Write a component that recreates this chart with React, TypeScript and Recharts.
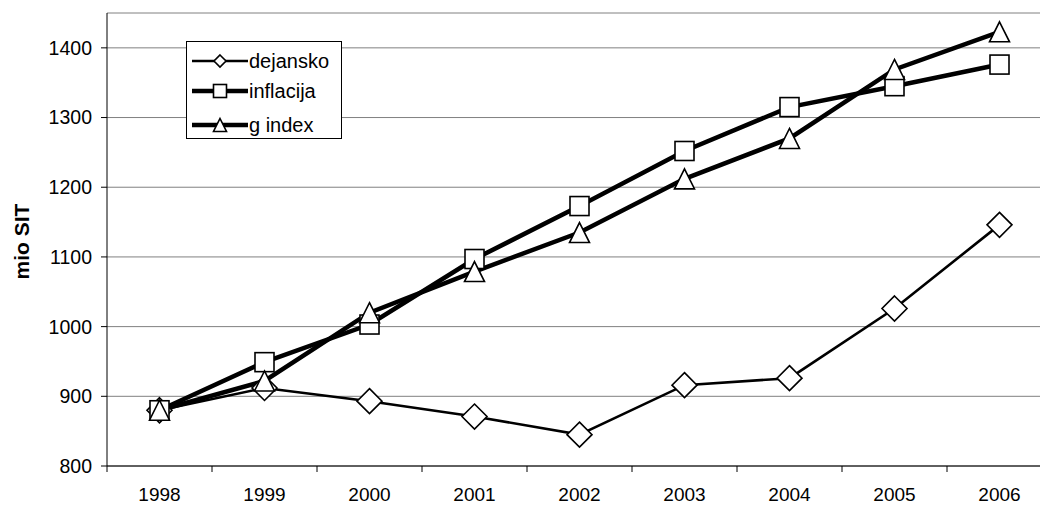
import React from 'react';
import { LineChart, Line, XAxis, YAxis, CartesianGrid, Label } from 'recharts';

const YEARS = ['1998', '1999', '2000', '2001', '2002', '2003', '2004', '2005', '2006'];
const DEJANSKO = [880, 912, 893, 871, 845, 916, 926, 1026, 1146];
const INFLACIJA = [880, 949, 1003, 1097, 1173, 1252, 1315, 1345, 1376];
const G_INDEX = [880, 922, 1020, 1079, 1135, 1212, 1270, 1369, 1423];
const SERIES_NAMES = ['dejansko', 'inflacija', 'g index'];
const Y_TICKS = [800, 900, 1000, 1100, 1200, 1300, 1400];
const Y_DOMAIN = [800, 1450];

const FONT = '"Liberation Sans", Arial, sans-serif';
const CHART_W = 1060;
const CHART_H = 505;
const AXIS_W = 107;
const PLOT_W = 945;
const HALF_BAND = PLOT_W / YEARS.length / 2;

const data = YEARS.map((year, i) => ({
  year,
  dejansko: DEJANSKO[i],
  inflacija: INFLACIJA[i],
  gindex: G_INDEX[i],
}));

function Diamond({ cx, cy, r = 12.5 }: { cx: number; cy: number; r?: number }) {
  return (
    <path
      d={`M${cx},${cy - r}L${cx + r},${cy}L${cx},${cy + r}L${cx - r},${cy}Z`}
      fill="#fff"
      stroke="#000"
      strokeWidth={1.6}
    />
  );
}

function Square({ cx, cy, r = 9.5 }: { cx: number; cy: number; r?: number }) {
  return (
    <rect x={cx - r} y={cy - r} width={r * 2} height={r * 2} fill="#fff" stroke="#000" strokeWidth={1.6} />
  );
}

function Triangle({ cx, cy, r = 10 }: { cx: number; cy: number; r?: number }) {
  return (
    <path
      d={`M${cx},${cy - r}L${cx + r},${cy + r}L${cx - r},${cy + r}Z`}
      fill="#fff"
      stroke="#000"
      strokeWidth={1.6}
    />
  );
}

function XTick(props: any) {
  const { x, y, payload } = props;
  return (
    <g>
      <line x1={x - HALF_BAND} x2={x - HALF_BAND} y1={y} y2={y + 6} stroke="#000" />
      <text x={x} y={y + 35} textAnchor="middle" fontSize={19} fontFamily={FONT} fill="#000">
        {payload.value}
      </text>
    </g>
  );
}

function YLabel(props: any) {
  const { viewBox } = props;
  const x = viewBox.x + 21;
  const y = viewBox.y + viewBox.height / 2 + 2;
  return (
    <text
      x={x}
      y={y}
      transform={`rotate(-90 ${x} ${y})`}
      textAnchor="middle"
      dominantBaseline="central"
      fontSize={21}
      fontWeight="bold"
      fontFamily={FONT}
      fill="#000"
    >
      mio SIT
    </text>
  );
}

function LegendBox() {
  const ys = [22, 52, 86];
  const rows = [
    { name: SERIES_NAMES[0], width: 2.6, mark: <Diamond cx={36} cy={ys[0]} r={6} /> },
    { name: SERIES_NAMES[1], width: 4.5, mark: <Square cx={36} cy={ys[1]} r={6.5} /> },
    { name: SERIES_NAMES[2], width: 4.5, mark: <Triangle cx={36} cy={ys[2]} r={6.5} /> },
  ];
  return (
    <svg width={160} height={102} style={{ position: 'absolute', left: 184, top: 39 }}>
      <rect x={2.5} y={2.5} width={155} height={97} fill="#fff" stroke="#000" strokeWidth={1} />
      {rows.map((r, i) => (
        <g key={r.name}>
          <line x1={8} x2={64} y1={ys[i]} y2={ys[i]} stroke="#000" strokeWidth={r.width} />
          {r.mark}
          <text x={65} y={ys[i]} dominantBaseline="central" fontSize={20} fontFamily={FONT} fill="#000">
            {r.name}
          </text>
        </g>
      ))}
    </svg>
  );
}

export default function App() {
  return (
    <div
      style={{
        position: 'absolute',
        left: 0,
        top: 0,
        width: 1040,
        height: 505,
        overflow: 'hidden',
        background: '#fff',
      }}
    >
      <LineChart
        width={CHART_W}
        height={CHART_H}
        data={data}
        margin={{ top: 13, right: CHART_W - AXIS_W - PLOT_W, left: 0, bottom: 0 }}
      >
        <CartesianGrid vertical={false} stroke="#808080" strokeWidth={1} />
        <XAxis
          dataKey="year"
          height={39}
          padding={{ left: HALF_BAND, right: HALF_BAND }}
          tickSize={0}
          tickMargin={0}
          tickLine={false}
          axisLine={{ stroke: '#000' }}
          tick={<XTick />}
          interval={0}
        />
        <YAxis
          width={AXIS_W}
          domain={Y_DOMAIN}
          ticks={Y_TICKS}
          allowDataOverflow
          tickSize={6}
          tickMargin={9}
          tickLine={{ stroke: '#000' }}
          axisLine={{ stroke: '#000' }}
          tick={{ fontSize: 19.5, fontFamily: FONT, fill: '#000' }}
        >
          <Label content={<YLabel />} />
        </YAxis>
        <Line
          dataKey="dejansko"
          stroke="#000"
          strokeWidth={2.6}
          isAnimationActive={false}
          dot={(p: any) => <Diamond key={`d${p.index}`} cx={p.cx} cy={p.cy} />}
        />
        <Line
          dataKey="inflacija"
          stroke="#000"
          strokeWidth={4.5}
          isAnimationActive={false}
          dot={(p: any) => <Square key={`s${p.index}`} cx={p.cx} cy={p.cy} />}
        />
        <Line
          dataKey="gindex"
          stroke="#000"
          strokeWidth={4.5}
          isAnimationActive={false}
          dot={(p: any) => <Triangle key={`t${p.index}`} cx={p.cx} cy={p.cy} />}
        />
      </LineChart>
      <LegendBox />
    </div>
  );
}
